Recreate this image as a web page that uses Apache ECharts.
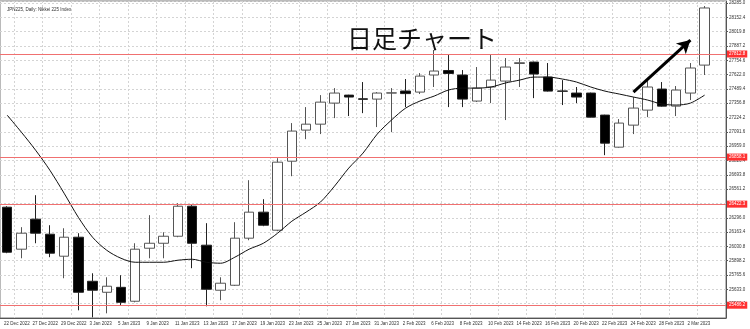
<!DOCTYPE html>
<html>
<head>
<meta charset="utf-8">
<script src="https://cdn.jsdelivr.net/npm/echarts@6/dist/echarts.min.js"></script>
<style>
html,body{margin:0;padding:0;background:#fff;}
#c{width:750px;height:329px;}
</style>
</head>
<body>
<div id="c"></div>
<script>
const dates = ['22 Dec 2022','23 Dec 2022','27 Dec 2022','28 Dec 2022','29 Dec 2022','30 Dec 2022','3 Jan 2023','4 Jan 2023','5 Jan 2023','6 Jan 2023','9 Jan 2023','10 Jan 2023','11 Jan 2023','12 Jan 2023','13 Jan 2023','16 Jan 2023','17 Jan 2023','18 Jan 2023','19 Jan 2023','20 Jan 2023','23 Jan 2023','24 Jan 2023','25 Jan 2023','26 Jan 2023','27 Jan 2023','30 Jan 2023','31 Jan 2023','1 Feb 2023','2 Feb 2023','3 Feb 2023','6 Feb 2023','7 Feb 2023','8 Feb 2023','9 Feb 2023','10 Feb 2023','13 Feb 2023','14 Feb 2023','15 Feb 2023','16 Feb 2023','17 Feb 2023','20 Feb 2023','21 Feb 2023','22 Feb 2023','23 Feb 2023','24 Feb 2023','27 Feb 2023','28 Feb 2023','1 Mar 2023','2 Mar 2023','3 Mar 2023'];
const opens  = [26394,26005,26283,26144,25940,26116,25708,25606,25652,25523,26014,26060,26125,26403,26042,25625,25671,26107,26348,26181,26820,27108,27163,27358,27432,27398,27395,27451,27470,27460,27618,27660,27618,27377,27507,27562,27725,27738,27599,27470,27451,27451,27247,26950,27154,27293,27488,27330,27451,27710];
const closes = [25977,26153,26153,25968,26116,25606,25625,25662,25513,26005,26060,26125,26403,26060,25634,25690,26107,26348,26227,26811,27099,27163,27367,27451,27414,27393,27451,27453,27446,27608,27655,27632,27395,27497,27571,27692,27732,27627,27469,27468,27414,27228,26987,27173,27312,27507,27330,27479,27683,28239];
const lows   = [25968,25921,26060,25931,25736,25439,25374,25411,25486,25513,25921,25921,26116,25829,25476,25532,25665,26088,26218,26172,26681,27024,27071,27219,27238,27265,27136,27089,27321,27442,27507,27321,27321,27368,27358,27201,27507,27404,27465,27340,27358,27225,26876,26945,27071,27228,27325,27238,27386,27618];
const highs  = [26403,26209,26505,26227,26199,26153,25782,25745,25764,26060,26320,26162,26431,26413,26246,25745,26255,26644,26468,26848,27173,27321,27432,27497,27435,27553,27460,27497,27581,27636,27850,27803,27664,27692,27803,27775,27775,27742,27729,27571,27507,27455,27250,27210,27414,27571,27553,27516,27729,28257];
const maValues = [27247,27089,26922,26737,26524,26301,26116,25995,25921,25884,25884,25884,25903,25912,25884,25875,25931,26005,26060,26153,26264,26348,26440,26589,26756,26895,27071,27201,27312,27377,27423,27479,27497,27497,27507,27544,27571,27599,27599,27581,27553,27507,27469,27442,27414,27386,27349,27340,27358,27432];
const redLevels = [27812.8, 26858.1, 26422.3, 25486.2];
const currentPrice = 28238.8;
const arrowFrom = [44, 27460];
const arrowTo = [48, 27942];
const yMin = 25367.8, yMax = 28303.6, yStep = 132.6;
const chartTitle = 'JPN225, Daily: Nikkei 225 Index';
const bigText = '日足チャート';

const ohlc = opens.map((o,i)=>[o, closes[i], lows[i], highs[i]]);
const xCats = dates.concat(['']);

const chart = echarts.init(document.getElementById('c'), null, {renderer:'canvas'});
chart.setOption({
  animation:false,
  backgroundColor:'#fff',
  title:[
    {text:chartTitle, left:2, top:2, textStyle:{fontSize:4.5, fontWeight:'normal', color:'#333', fontFamily:'Liberation Sans'}},
    {text:bigText, left:342, top:21, textStyle:{fontSize:25, fontWeight:'normal', color:'#111', fontFamily:'Noto Sans CJK JP'}}
  ],
  grid:{left:-3.3, right:24, top:1, bottom:11, show:true, borderColor:'#777', borderWidth:1},
  xAxis:{
    type:'category', data:xCats, boundaryGap:true,
    axisLine:{lineStyle:{color:'#555'}},
    axisTick:{show:false},
    axisLabel:{interval:1, align:'left', fontSize:4.5, color:'#333', margin:3, fontFamily:'Liberation Sans', padding:[0,0,0,-3]},
    splitLine:{show:true, interval:(i)=>i%2===1, lineStyle:{color:'#d4d4d4', type:[2,2], width:1}}
  },
  yAxis:{
    type:'value', position:'right', min:yMin, max:yMax, interval:yStep, scale:true,
    axisLine:{show:true, lineStyle:{color:'#555'}},
    axisTick:{show:true, length:2, lineStyle:{color:'#555'}},
    axisLabel:{fontSize:4.5, color:'#333', margin:3, fontFamily:'Liberation Sans', showMinLabel:false, showMaxLabel:false, formatter:(v)=>v.toFixed(1)},
    splitLine:{show:true, lineStyle:{color:'#d4d4d4', type:[2,2], width:1}}
  },
  series:[
    {
      type:'candlestick', data:ohlc, barWidth:10,
      itemStyle:{color:'#fff', color0:'#000', borderColor:'#555', borderColor0:'#222', borderWidth:1},
      markLine:{
        silent:true, symbol:['none','none'], animation:false,
        data:[
          ...redLevels.map(v=>({yAxis:v, lineStyle:{color:'#f07070', width:1, type:'solid'},
            label:{show:true, position:'end', formatter:v.toFixed(1), color:'#fff', backgroundColor:'#ff3030', fontSize:4.5, padding:[1,2], distance:1, fontFamily:'Liberation Sans'}})),
          {yAxis:currentPrice, lineStyle:{opacity:0},
            label:{show:true, position:'end', formatter:currentPrice.toFixed(1), color:'#fff', backgroundColor:'#b0b0b0', fontSize:4.5, padding:[1,2], distance:1, fontFamily:'Liberation Sans'}},
          [{coord:arrowFrom, symbol:'none'}, {coord:arrowTo, symbol:'arrow', symbolSize:[11,13]}]
        ],
        lineStyle:{color:'#000', width:3, type:'solid'}
      }
    },
    {
      type:'line', data:maValues, smooth:0.3, showSymbol:false, symbol:'none',
      lineStyle:{color:'#111', width:1}, z:3
    }
  ]
});
</script>
</body>
</html>
